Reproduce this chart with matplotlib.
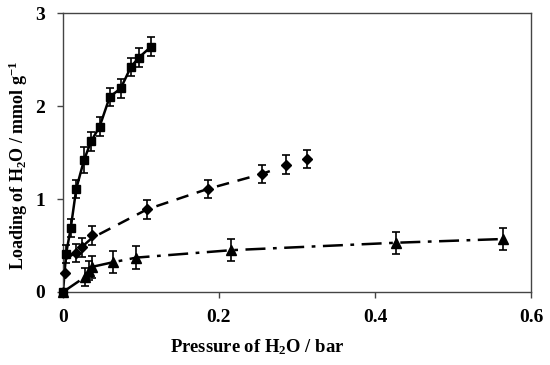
import matplotlib
matplotlib.use("Agg")
import matplotlib.pyplot as plt

plt.rcParams['font.family'] = 'Liberation Serif'
plt.rcParams['font.weight'] = 'bold'
plt.rcParams['mathtext.fontset'] = 'custom'
plt.rcParams['mathtext.rm'] = 'Liberation Serif:bold'
plt.rcParams['mathtext.bf'] = 'Liberation Serif:bold'
plt.rcParams['mathtext.default'] = 'bf'

# squares (solid line)
sq_p = [0.0, 0.004, 0.010, 0.017, 0.027, 0.036, 0.047, 0.060, 0.074, 0.087, 0.097, 0.113]
sq_q = [0.0, 0.41, 0.69, 1.11, 1.42, 1.62, 1.78, 2.10, 2.19, 2.42, 2.52, 2.64]
sq_err = [0.0, 0.1, 0.1, 0.1, 0.14, 0.1, 0.1, 0.1, 0.1, 0.1, 0.1, 0.1]

# diamonds (dashed line)
di_p = [0.003, 0.017, 0.024, 0.037, 0.108, 0.186, 0.255, 0.286, 0.313]
di_q = [0.20, 0.42, 0.48, 0.61, 0.89, 1.11, 1.27, 1.37, 1.43]
di_err = [0.0, 0.1, 0.1, 0.1, 0.1, 0.1, 0.1, 0.1, 0.1]
di_line_p = [0.003, 0.017, 0.037, 0.108, 0.186, 0.255, 0.275]
di_line_q = [0.35, 0.43, 0.58, 0.89, 1.11, 1.27, 1.33]

# triangles (dash-dot line)
tr_p = [0.0, 0.028, 0.034, 0.037, 0.064, 0.094, 0.216, 0.427, 0.564]
tr_q = [0.0, 0.16, 0.23, 0.27, 0.32, 0.37, 0.45, 0.53, 0.57]
tr_err = [0.0, 0.1, 0.1, 0.12, 0.12, 0.12, 0.12, 0.12, 0.12]

fig = plt.figure(figsize=(5.5, 3.65), dpi=100)
ax = fig.add_axes([0.1145, 0.2, 0.851, 0.764])

# curves
ax.plot(sq_p, sq_q, '-', color='black', lw=1.8)
ax.plot(di_line_p, di_line_q, color='black', lw=1.8, dashes=(5, 3.5))
ax.plot(tr_p, tr_q, color='black', lw=1.8, dashes=(8, 3, 1.5, 3))

# data with error bars
ebkw = dict(color='black', ecolor='black', elinewidth=1.2, capsize=3, capthick=1.2,
            linestyle='none', clip_on=False, zorder=5)
ax.errorbar(sq_p, sq_q, yerr=sq_err, marker='s', markersize=6, **ebkw)
ax.errorbar(di_p, di_q, yerr=di_err, marker='D', markersize=5.5, **ebkw)
ax.errorbar(tr_p, tr_q, yerr=tr_err, marker='^', markersize=7, **ebkw)

ax.set_xlim(0, 0.6)
ax.set_ylim(0, 3)
ax.set_xticks([0, 0.2, 0.4, 0.6])
ax.set_xticklabels(['0', '0.2', '0.4', '0.6'])
ax.set_yticks([0, 1, 2, 3])
ax.tick_params(axis='both', labelsize=14, direction='out', length=4, width=1, color='#444444')
ax.tick_params(axis='x', pad=8)
ax.tick_params(axis='y', pad=9)
for s in ax.spines.values():
    s.set_linewidth(1)
    s.set_color('#444444')

ax.set_xlabel('Pressure of H$_2$O / bar', fontsize=13.4, fontweight='bold')
ax.xaxis.set_label_coords(0.415, -0.163)
ax.set_ylabel('Loading of H$_2$O / mmol g$^{-1}$', fontsize=13, fontweight='bold')
ax.yaxis.set_label_coords(-0.07, 0.455)

fig.savefig('out.png', dpi=100)
